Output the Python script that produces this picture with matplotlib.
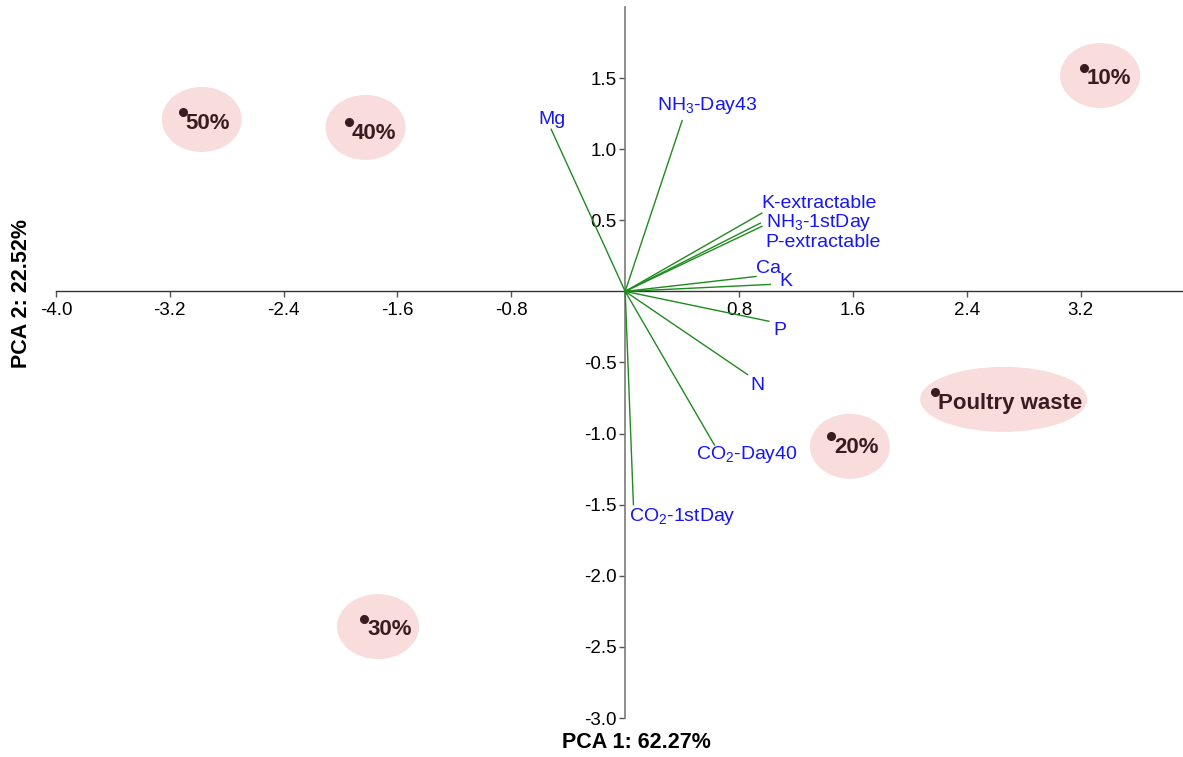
import matplotlib
matplotlib.use("Agg")
import matplotlib.pyplot as plt
from matplotlib.patches import Ellipse

plt.rcParams['font.family'] = ['Liberation Sans', 'DejaVu Sans']
plt.rcParams['mathtext.default'] = 'regular'
plt.rcParams['axes.unicode_minus'] = False

# sample scores
samples = ['10%', '20%', '30%', '40%', '50%', 'Poultry waste']
pc1 = [3.225, 1.446, -1.835, -1.944, -3.109, 2.175]
pc2 = [1.574, -1.019, -2.301, 1.188, 1.258, -0.710]

# variable loadings (biplot vectors)
variables = ['Mg', 'NH$_3$-Day43', 'K-extractable', 'NH$_3$-1stDay', 'P-extractable',
             'Ca', 'K', 'P', 'N', 'CO$_2$-Day40', 'CO$_2$-1stDay']
load1 = [-0.52, 0.40, 0.96, 0.95, 0.96, 0.92, 1.02, 1.01, 0.86, 0.627, 0.058]
load2 = [1.14, 1.20, 0.55, 0.48, 0.457, 0.105, 0.049, -0.21, -0.585, -1.08, -1.50]

xticks = [-4.0, -3.2, -2.4, -1.6, -0.8, 0.8, 1.6, 2.4, 3.2]
yticks = [1.5, 1.0, 0.5, -0.5, -1.0, -1.5, -2.0, -2.5, -3.0]

# label offsets in pixels (style only)
var_off = [(-13, 10), (-25, 15), (0, 10), (6, 1), (4, -16), (0, 8), (9, 3),
           (4, -9), (3, -11), (-18, -10), (-4, -12)]
ell_off = [(16, -8), (19, -10), (14, -8), (17, -5), (19, -7), (69, -7)]
ell_w = [80, 80, 82, 80, 80, 167]
ell_h = 65

W, H = 1183, 757
fig = plt.figure(figsize=(W / 100, H / 100), dpi=100)
left, right, bottom, top = 0.0473, 1.0, 0.0515, 0.9908
ax = fig.add_axes([left, bottom, right - left, top - bottom])
xmin, xmax, ymin, ymax = -4.0, 3.92, -3.0, 2.0
ax.set_xlim(xmin, xmax)
ax.set_ylim(ymin, ymax)

ux = W * (right - left) / (xmax - xmin)
uy = H * (top - bottom) / (ymax - ymin)

for s in ['top', 'right']:
    ax.spines[s].set_visible(False)
ax.spines['left'].set_position(('data', 0))
ax.spines['bottom'].set_position(('data', 0))
ax.spines['left'].set_color('#7a7a7a')
ax.spines['bottom'].set_color('#333333')
ax.spines['left'].set_linewidth(1.2)
ax.spines['bottom'].set_linewidth(1.0)

ax.set_xticks(xticks)
ax.set_xticklabels(['%.1f' % v for v in xticks])
ax.set_yticks(yticks)
ax.set_yticklabels(['%.1f' % v for v in yticks])
ax.tick_params(axis='x', direction='out', length=4, width=1, color='#555555',
               labelsize=13.5, pad=4)
ax.tick_params(axis='y', direction='out', length=4, width=1, color='#555555',
               labelsize=13.5, pad=2)

# vectors
for i in range(len(variables)):
    ax.plot([0, load1[i]], [0, load2[i]], color='#1f8a1f', lw=1.0, zorder=3)
    ax.annotate(variables[i], (load1[i], load2[i]), xytext=var_off[i],
                textcoords='offset pixels', ha='left', va='center',
                color='#1515f5', fontsize=14, zorder=4)

# samples
for i in range(len(samples)):
    cx = pc1[i] + ell_off[i][0] / ux
    cy = pc2[i] + ell_off[i][1] / uy
    ax.add_patch(Ellipse((cx, cy), ell_w[i] / ux, ell_h / uy,
                         facecolor='#f9dcdc', edgecolor='none', zorder=1))
    ax.plot(pc1[i], pc2[i], 'o', color='#3a1c20', ms=5.5, zorder=5)
    ax.annotate(samples[i], (pc1[i], pc2[i]), xytext=(3, -11),
                textcoords='offset pixels', ha='left', va='center',
                color='#3a1c20', fontsize=16, fontweight='bold', zorder=5)

fig.text(636 / W, 1 - 742 / H, 'PCA 1: 62.27%', ha='center', va='center',
         fontsize=15.5, fontweight='bold')
fig.text(22 / W, 1 - 293 / H, 'PCA 2: 22.52%', ha='center', va='center',
         rotation=90, fontsize=15.5, fontweight='bold')

plt.savefig('out.png', dpi=100)
